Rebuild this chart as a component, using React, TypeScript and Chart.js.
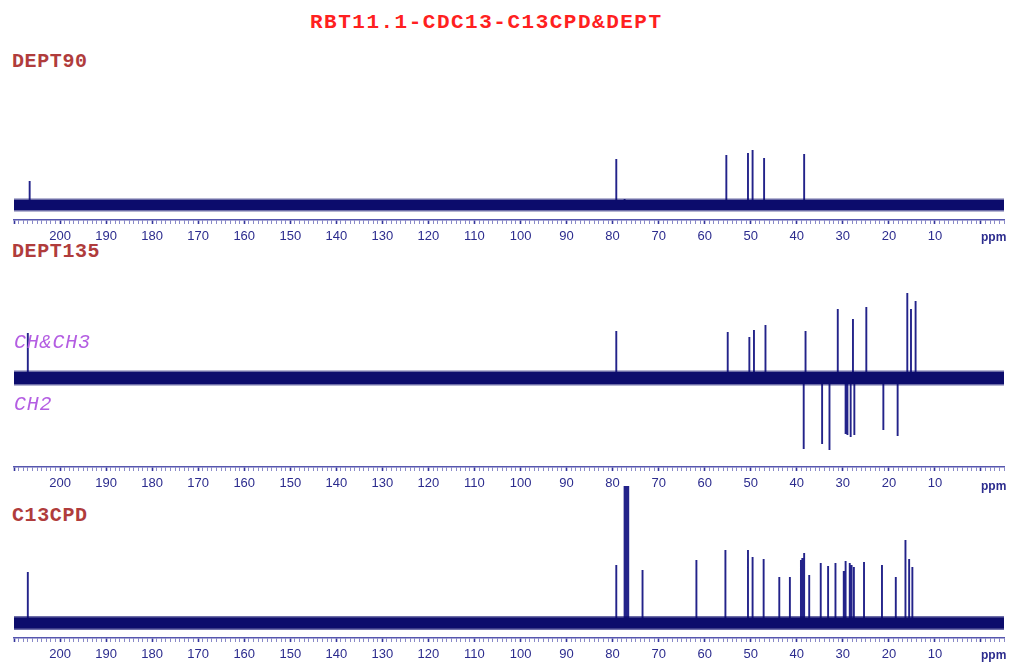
import React, { useEffect, useRef } from 'react';
import { Chart, registerables } from 'chart.js';

Chart.register(...registerables);

// ---- data (chemical shift in ppm, relative intensity) ----
const ppmTicksMajor = [200, 190, 180, 170, 160, 150, 140, 130, 120, 110, 100, 90, 80, 70, 60, 50, 40, 30, 20, 10];

const dept90Shifts = [206.6, 79.2, 77.4, 55.3, 50.6, 49.6, 47.1, 38.4];
const dept90Intensities = [24, 46, 6, 50, 52, 55, 47, 51];

const dept135Shifts = [207.0, 79.2, 55.0, 50.3, 49.3, 46.8, 38.1, 31.1, 27.8, 24.9, 16.0, 15.2, 14.2,
  38.5, 34.5, 32.9, 29.4, 29.0, 28.3, 27.5, 21.2, 18.1];
const dept135Intensities = [45, 47, 46, 41, 48, 53, 47, 69, 59, 71, 85, 69, 77,
  -71, -66, -72, -56, -57, -59, -57, -52, -58];

const cpdShifts = [207.0, 79.2, 77.4, 77.0, 76.6, 73.5, 61.8, 55.5, 50.6, 49.6, 47.2, 43.8, 41.5,
  39.1, 38.8, 38.4, 37.3, 34.8, 33.2, 31.6, 29.8, 29.4, 28.5, 28.1, 27.6, 25.4, 21.5, 18.5,
  16.4, 15.6, 14.9];
const cpdIntensities = [51, 58, 137, 137, 137, 53, 63, 73, 73, 66, 64, 46, 46,
  63, 65, 70, 48, 60, 57, 60, 52, 62, 60, 58, 56, 61, 58, 46,
  83, 64, 56];

const PPM_MIN = -5;
const PPM_MAX = 210;

const NAVY = '#0c0c6c';
const PEAK = '#23238a';
const AXIS = '#5656ae';
const LABEL = '#2c2c8e';

function stickPoints(shifts: number[], ints: number[]) {
  const pts: { x: number; y: number }[] = [];
  shifts.forEach((s, i) => {
    pts.push({ x: s, y: 0 }, { x: s, y: ints[i] }, { x: s, y: 0 });
  });
  return pts;
}

type SpecProps = {
  top: number;
  plotHeight: number;
  axisHeight: number;
  yMin: number;
  yMax: number;
  band: number;
  shifts: number[];
  ints: number[];
};

function Spectrum({ top, plotHeight, axisHeight, yMin, yMax, band, shifts, ints }: SpecProps) {
  const ref = useRef<HTMLCanvasElement | null>(null);
  const height = plotHeight + axisHeight;
  useEffect(() => {
    if (!ref.current) return;
    const base = [{ x: PPM_MAX, y: 0 }, { x: PPM_MIN, y: 0 }];
    const chart = new Chart(ref.current, {
      type: 'line',
      data: {
        datasets: [
          // dataset 0 is painted last (on top): the noisy baseline band hides the stick feet
          { data: base, borderColor: NAVY, borderWidth: band, pointRadius: 0 },
          { data: base, borderColor: 'rgba(12,12,108,0.6)', borderWidth: band + 3, pointRadius: 0 },
          { data: stickPoints(shifts, ints), borderColor: PEAK, borderWidth: 1.9, pointRadius: 0, tension: 0 },
        ],
      },
      options: {
        animation: false,
        responsive: false,
        maintainAspectRatio: false,
        events: [],
        layout: { padding: { left: 14, right: 4, top: 0, bottom: 0 } },
        plugins: { legend: { display: false }, tooltip: { enabled: false }, title: { display: false } },
        scales: {
          x: {
            type: 'linear',
            reverse: true,
            min: PPM_MIN,
            max: PPM_MAX,
            afterFit: (s: any) => { s.height = axisHeight; },
            border: { display: true, color: AXIS, width: 1.5 },
            grid: {
              drawOnChartArea: false,
              drawTicks: true,
              tickLength: 4,
              tickColor: (ctx: any) => (Math.round(ctx.tick?.value ?? 1) % 10 === 0 ? '#34349c' : '#8a8ac8'),
              tickWidth: (ctx: any) => (Math.round(ctx.tick?.value ?? 1) % 10 === 0 ? 1.6 : 1),
            },
            ticks: {
              stepSize: 1,
              autoSkip: false,
              maxRotation: 0,
              minRotation: 0,
              padding: 5,
              color: LABEL,
              font: { family: 'Liberation Sans', size: 13 },
              callback: (v: any) => {
                const n = Math.round(Number(v));
                return ppmTicksMajor.includes(n) ? String(n) : '';
              },
            },
          },
          y: { display: false, min: yMin, max: yMax },
        },
      },
    } as any);
    return () => chart.destroy();
  }, []);
  return (
    <canvas
      ref={ref}
      width={1009}
      height={height}
      style={{ position: 'absolute', left: 0, top, width: 1009, height }}
    />
  );
}

const monoBold: React.CSSProperties = {
  position: 'absolute',
  fontFamily: '"Liberation Mono", "DejaVu Sans Mono", monospace',
  fontWeight: 'bold',
  whiteSpace: 'nowrap',
  lineHeight: 1,
  margin: 0,
};

const sectionLabel: React.CSSProperties = { ...monoBold, color: '#b03c3c', fontSize: 20, letterSpacing: 0.6 };
const chLabel: React.CSSProperties = {
  position: 'absolute',
  fontFamily: '"Liberation Mono", "DejaVu Sans Mono", monospace',
  fontStyle: 'italic',
  color: '#b45ee2',
  fontSize: 20,
  letterSpacing: 0.8,
  lineHeight: 1,
  whiteSpace: 'nowrap',
};
const ppmLabel: React.CSSProperties = {
  position: 'absolute',
  fontFamily: '"Liberation Sans", sans-serif',
  fontSize: 12,
  fontWeight: 'bold',
  color: LABEL,
  lineHeight: 1,
  whiteSpace: 'nowrap',
};

export default function App() {
  return (
    <div style={{ position: 'absolute', left: 0, top: 0, width: 1009, height: 662, overflow: 'hidden', background: '#fff' }}>
      <div style={{ ...monoBold, color: '#ff2020', fontSize: 21, letterSpacing: 1.5, left: 310, top: 12 }}>
        RBT11.1-CDC13-C13CPD&amp;DEPT
      </div>
      <div style={{ ...sectionLabel, left: 12, top: 52 }}>DEPT90</div>
      <div style={{ ...sectionLabel, left: 12, top: 242 }}>DEPT135</div>
      <div style={{ ...sectionLabel, left: 12, top: 506 }}>C13CPD</div>

      <Spectrum top={125} plotHeight={95} axisHeight={28} yMin={-15} yMax={80} band={10}
        shifts={dept90Shifts} ints={dept90Intensities} />
      <Spectrum top={280} plotHeight={187} axisHeight={30} yMin={-89} yMax={98} band={12}
        shifts={dept135Shifts} ints={dept135Intensities} />
      <Spectrum top={480} plotHeight={158} axisHeight={22} yMin={-15} yMax={143} band={11}
        shifts={cpdShifts} ints={cpdIntensities} />

      <div style={{ ...chLabel, left: 14, top: 333 }}>CH&amp;CH3</div>
      <div style={{ ...chLabel, left: 14, top: 395 }}>CH2</div>

      <div style={{ ...ppmLabel, left: 981, top: 231 }}>ppm</div>
      <div style={{ ...ppmLabel, left: 981, top: 480 }}>ppm</div>
      <div style={{ ...ppmLabel, left: 981, top: 649 }}>ppm</div>
    </div>
  );
}
